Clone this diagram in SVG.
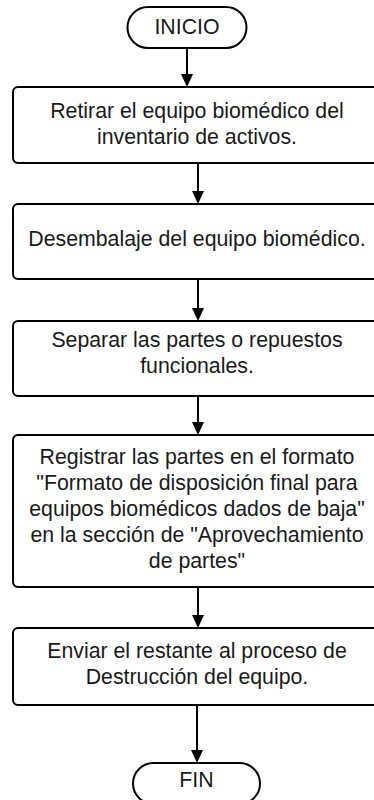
<svg xmlns="http://www.w3.org/2000/svg" width="374" height="800" viewBox="0 0 374 800">
<style>
.shape{fill:#fff;stroke:#000;stroke-width:2}
.t{font-family:"Liberation Sans",Arial,sans-serif;font-size:21.3px;fill:#1a1a1a;text-anchor:middle}
.c{stroke:#000;stroke-width:2;fill:none}
</style>
<rect width="374" height="800" fill="#fff"/>
<g id="connectors">
<path class="c" d="M187,48 V75"/><path d="M181,74 H193 L187,87 Z"/>
<path class="c" d="M198,163 V192"/><path d="M192,191 H204 L198,204 Z"/>
<path class="c" d="M198,279 V309"/><path d="M192,308 H204 L198,321 Z"/>
<path class="c" d="M198,396 V423"/><path d="M192,422 H204 L198,435 Z"/>
<path class="c" d="M198,587 V616"/><path d="M192,615 H204 L198,628 Z"/>
<path class="c" d="M197,705 V751"/><path d="M191,750 H203 L197,763 Z"/>
</g>
<g id="inicio">
<rect class="shape" x="127.5" y="7" width="119" height="41" rx="20.5"/>
<text class="t" x="187" y="34">INICIO</text>
</g>
<g id="paso1">
<rect class="shape" x="13" y="87" width="370" height="76" rx="5"/>
<text class="t" x="197" y="118">Retirar el equipo biomédico del</text>
<text class="t" x="197" y="143.5">inventario de activos.</text>
</g>
<g id="paso2">
<rect class="shape" x="13" y="204" width="370" height="75" rx="5"/>
<text class="t" x="197" y="246">Desembalaje del equipo biomédico.</text>
</g>
<g id="paso3">
<rect class="shape" x="13" y="321" width="370" height="75" rx="5"/>
<text class="t" x="197" y="347">Separar las partes o repuestos</text>
<text class="t" x="197" y="373">funcionales.</text>
</g>
<g id="paso4">
<rect class="shape" x="13" y="435" width="370" height="152" rx="5"/>
<text class="t" x="197" y="463.5">Registrar las partes en el formato</text>
<text class="t" x="197" y="489.5">"Formato de disposición final para</text>
<text class="t" x="197" y="515.5">equipos biomédicos dados de baja"</text>
<text class="t" x="197" y="541.5">en la sección de "Aprovechamiento</text>
<text class="t" x="197" y="567.5">de partes"</text>
</g>
<g id="paso5">
<rect class="shape" x="13" y="628" width="370" height="77" rx="5"/>
<text class="t" x="197" y="658">Enviar el restante al proceso de</text>
<text class="t" x="197" y="684">Destrucción del equipo.</text>
</g>
<g id="fin">
<rect class="shape" x="133" y="763" width="127" height="41" rx="20.5"/>
<text class="t" x="196.5" y="787">FIN</text>
</g>
</svg>
